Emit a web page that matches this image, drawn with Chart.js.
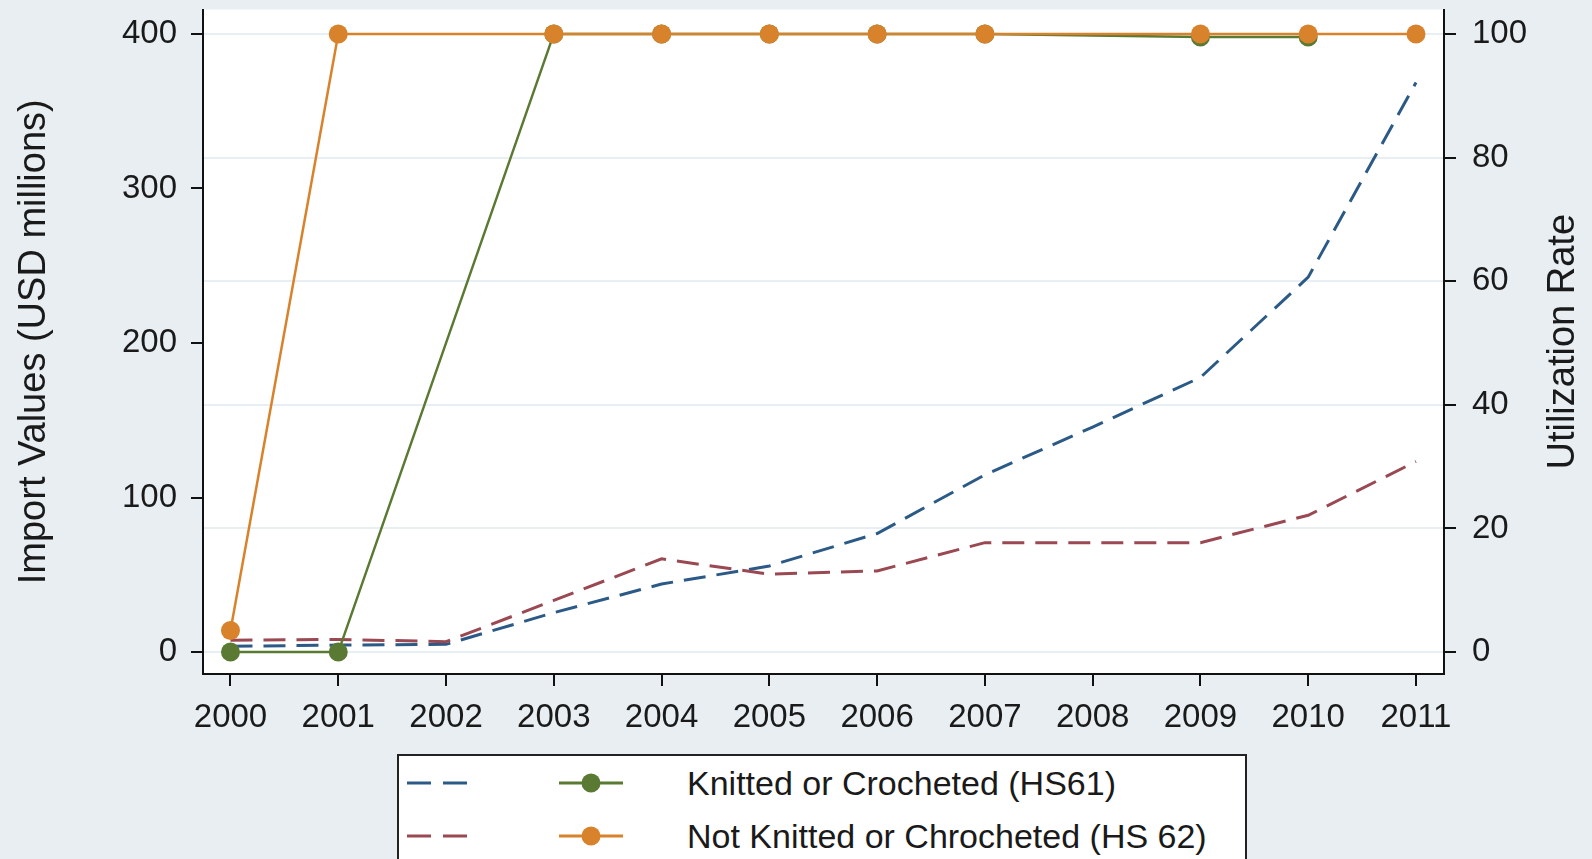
<!DOCTYPE html>
<html>
<head>
<meta charset="utf-8">
<script src="https://cdn.jsdelivr.net/npm/chart.js@4"></script>
<style>
  html, body { margin: 0; padding: 0; background: #e8eef2; overflow: hidden; }
  #wrap { position: relative; width: 1592px; height: 859px; }
  #legend {
    position: absolute; left: 397px; top: 754px; width: 850px; height: 120px;
    background: #fff; border: 2px solid #222; box-sizing: border-box;
    font-family: "Liberation Sans", Arial, sans-serif; font-size: 34px; color: #1a1a1a;
  }
  .row { position: absolute; left: 0; height: 40px; width: 100%; }
  .row svg { position: absolute; top: 0; }
  .row span { position: absolute; left: 288px; top: 1px; white-space: nowrap; }
</style>
</head>
<body>
<div id="wrap">
  <canvas id="chart" width="1592" height="859"></canvas>
  <div id="legend"></div>
</div>
<script>
// import values (USD millions) and utilization rate (%)
const years = [2000, 2001, 2002, 2003, 2004, 2005, 2006, 2007, 2008, 2009, 2010, 2011];
const hs61Import = [3.7, 4.5, 5, 25.5, 44, 55.7, 76.7, 114.7, 145.6, 177.7, 242.6, 368.5];
const hs62Import = [7.6, 8.2, 6.7, 33.4, 60.3, 50.4, 52.5, 70.8, 70.8, 70.8, 88.5, 123.3];
const hs61Util = [0, 0, null, 100, 100, 100, 100, 100, null, 99.5, 99.5, null];
const hs62Util = [3.5, 100, null, 100, 100, 100, 100, 100, null, 100, 100, 100];

const leftTicks = [0, 100, 200, 300, 400];
const rightTicks = [0, 20, 40, 60, 80, 100];

const seriesNames = ["Knitted or Crocheted (HS61)", "Not Knitted or Chrocheted (HS 62)"];

const blue = "#2c5a87";
const red = "#9a4852";
const green = "#5a7a33";
const orange = "#d8822b";

Chart.defaults.font.family = '"Liberation Sans", Arial, sans-serif';

function pts(arr) {
	return years.map((yr, i) => ({ x: yr, y: arr[i] }));
}

// no extra room for half tick labels, the frame sits where the original has it
function noPad(s) {
	s.paddingTop = 0;
	s.paddingBottom = 0;
	s.paddingLeft = 0;
	s.paddingRight = 0;
}

const plotBg = {
	id: "plotBg",
	beforeDraw(chart) {
		const a = chart.chartArea;
		const ctx = chart.ctx;
		ctx.save();
		ctx.fillStyle = "#ffffff";
		ctx.fillRect(a.left, a.top, a.right - a.left, a.bottom - a.top);
		ctx.restore();
	},
	afterDraw(chart) {
		// right axis title reads bottom-to-top like the original
		const ctx = chart.ctx;
		const a = chart.chartArea;
		ctx.save();
		ctx.translate(1564, (a.top + a.bottom) / 2);
		ctx.rotate(-Math.PI / 2);
		ctx.fillStyle = "#1a1a1a";
		ctx.font = '38px "Liberation Sans", Arial, sans-serif';
		ctx.textAlign = "center";
		ctx.textBaseline = "middle";
		ctx.fillText("Utilization Rate", 0, 0);
		ctx.restore();
	},
};

const data = {
	datasets: [
		{
			label: seriesNames[1] + " utilization",
			data: pts(hs62Util),
			yAxisID: "y2",
			borderColor: orange,
			backgroundColor: orange,
			borderWidth: 2.5,
			pointRadius: 9.5,
			pointBorderWidth: 0,
			spanGaps: true,
		},
		{
			label: seriesNames[0] + " utilization",
			data: pts(hs61Util),
			yAxisID: "y2",
			borderColor: green,
			backgroundColor: green,
			borderWidth: 2.5,
			pointRadius: 9.5,
			pointBorderWidth: 0,
			spanGaps: true,
		},
		{
			label: seriesNames[1] + " imports",
			data: pts(hs62Import),
			yAxisID: "y",
			borderColor: red,
			borderWidth: 3,
			borderDash: [22, 11],
			pointRadius: 0,
		},
		{
			label: seriesNames[0] + " imports",
			data: pts(hs61Import),
			yAxisID: "y",
			borderColor: blue,
			borderWidth: 3,
			borderDash: [22, 11],
			pointRadius: 0,
		},
	],
};

const tickFont = { size: 33 };

const config = {
	type: "line",
	data: data,
	plugins: [plotBg],
	options: {
		responsive: false,
		devicePixelRatio: 1,
		animation: false,
		layout: { padding: { top: 8, left: 0, right: 0, bottom: 0 } },
		plugins: { legend: { display: false }, tooltip: { enabled: false } },
		scales: {
			x: {
				type: "linear",
				min: 1999.745,
				max: 2011.26,
				afterBuildTicks: (s) => { s.ticks = years.map((v) => ({ value: v })); },
				afterFit: (s) => { s.height = 185; noPad(s); },
				grid: { drawOnChartArea: false, tickLength: 12, tickColor: "#111", lineWidth: 2 },
				border: { color: "#111", width: 2 },
				ticks: { font: tickFont, color: "#1a1a1a", padding: 12, maxRotation: 0, autoSkip: false, callback: (v) => String(v) },
			},
			y: {
				position: "left",
				min: -14.2,
				max: 415.8,
				afterBuildTicks: (s) => { s.ticks = leftTicks.map((v) => ({ value: v })); },
				afterFit: (s) => { s.width = 203; noPad(s); },
				grid: { drawOnChartArea: false, tickLength: 12, tickColor: "#111", lineWidth: 2 },
				border: { color: "#111", width: 2 },
				ticks: { font: tickFont, color: "#1a1a1a", padding: 14 },
				title: {
					display: true,
					text: "Import Values (USD millions)",
					font: { size: 38 },
					color: "#1a1a1a",
					padding: { top: 12, bottom: 0 },
				},
			},
			y2: {
				position: "right",
				min: -3.55,
				max: 103.95,
				afterBuildTicks: (s) => { s.ticks = rightTicks.map((v) => ({ value: v })); },
				afterFit: (s) => { s.width = 148; noPad(s); },
				grid: { drawOnChartArea: true, color: "#e8eff4", lineWidth: 2, tickLength: 12, tickColor: "#111" },
				border: { color: "#111", width: 2 },
				ticks: { font: tickFont, color: "#1a1a1a", padding: 16 },
			},
		},
	},
};

const importChart = new Chart(document.getElementById("chart"), config);

// legend: dashed import line, marker line for utilization, then the name
function sample(color, dashed) {
	if (dashed) {
		return '<svg width="70" height="40" style="left:6px"><line x1="2" y1="20" x2="66" y2="20" stroke="' + color +
			'" stroke-width="3" stroke-dasharray="24,12"/></svg>';
	}
	return '<svg width="70" height="40" style="left:158px"><line x1="2" y1="20" x2="66" y2="20" stroke="' + color +
		'" stroke-width="3"/><circle cx="34" cy="20" r="9.5" fill="' + color + '"/></svg>';
}

const legendRows = [
	{ top: 7, dash: blue, marker: green, name: seriesNames[0] },
	{ top: 60, dash: red, marker: orange, name: seriesNames[1] },
];
document.getElementById("legend").innerHTML = legendRows.map((r) =>
	'<div class="row" style="top:' + r.top + 'px">' + sample(r.dash, true) + sample(r.marker, false) +
	"<span>" + r.name + "</span></div>"
).join("");
</script>
</body>
</html>
